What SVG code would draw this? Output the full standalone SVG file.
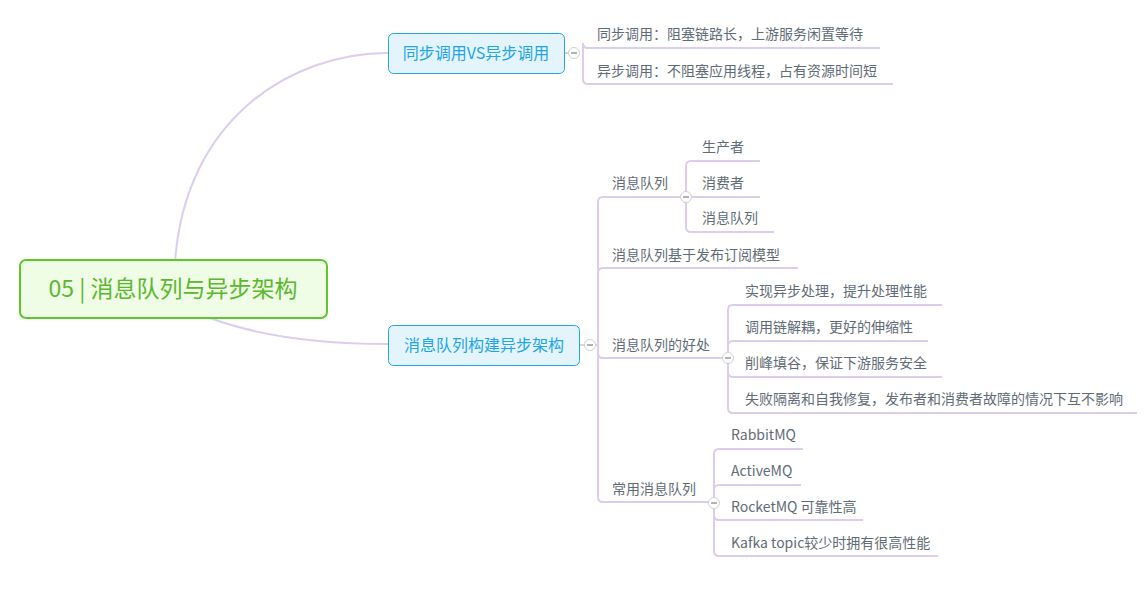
<svg xmlns="http://www.w3.org/2000/svg" width="1147" height="597" viewBox="0 0 1147 597">
<defs>
<style>
.ln{fill:none;stroke:#dccdee;stroke-width:2}
.t{font-family:"Noto Sans CJK SC","Noto Sans",sans-serif;font-size:14px;fill:#5f6b76}
.nt{font-family:"Noto Sans CJK SC","Noto Sans",sans-serif;font-size:16px;fill:#22a5e6;text-anchor:middle}
.nb{fill:#e4f4fc;stroke:#22a5e6;stroke-width:1}
.cc{fill:#fff;stroke:#d0d0d0;stroke-width:1}
.cm{stroke:#999;stroke-width:1.5}
</style>
<g id="collapse"><circle class="cc" r="5.5"/><line class="cm" x1="-3" y1="0" x2="3" y2="0"/></g>
</defs>
<rect width="1147" height="597" fill="#fff"/>
<g id="connectors">
<path class="ln" d="M175,262 C185,120 290,53 388,53"/>
<path class="ln" d="M210,318 Q280,344 388,344"/>
<path class="ln" d="M564,53 L580,53"/>
<path class="ln" d="M583,53 L583,43 Q583,48 588,48 L880,48"/>
<path class="ln" d="M583,53 L583,79 Q583,84 588,84 L893,84"/>
<path class="ln" d="M579,345 L598,345"/>
<path class="ln" d="M598,345 L598,202 Q598,197 603,197 L686,197"/>
<path class="ln" d="M598,345 L598,273 Q598,268 603,268 L798,268"/>
<path class="ln" d="M598,345 L598,353 Q598,358 603,358 L728,358"/>
<path class="ln" d="M598,345 L598,497 Q598,502 603,502 L714,502"/>
<path class="ln" d="M686,197 L686,166 Q686,161 691,161 L760,161"/>
<path class="ln" d="M686,197 L760,197"/>
<path class="ln" d="M686,197 L686,227 Q686,232 691,232 L774,232"/>
<path class="ln" d="M728,358 L728,310 Q728,305 733,305 L942,305"/>
<path class="ln" d="M728,358 L728,346 Q728,341 733,341 L928,341"/>
<path class="ln" d="M728,358 L728,372 Q728,377 733,377 L942,377"/>
<path class="ln" d="M728,358 L728,408 Q728,413 733,413 L1137,413"/>
<path class="ln" d="M714,502 L714,454 Q714,449 719,449 L803,449"/>
<path class="ln" d="M714,502 L714,490 Q714,485 719,485 L801,485"/>
<path class="ln" d="M714,502 L714,515 Q714,520 719,520 L863,520"/>
<path class="ln" d="M714,502 L714,551 Q714,556 719,556 L938,556"/>
<use href="#collapse" x="574" y="53"/>
<use href="#collapse" x="590" y="345"/>
<use href="#collapse" x="686" y="197"/>
<use href="#collapse" x="728" y="358"/>
<use href="#collapse" x="714" y="503"/>
</g>
<g id="root">
<rect x="20" y="260" width="307" height="58" rx="6" fill="#effce6" stroke="#5fc72e" stroke-width="2"/>
<text x="173" y="297" font-family="'Noto Sans CJK SC','Noto Sans',sans-serif" font-size="23" fill="#5ab82c" text-anchor="middle">05 | 消息队列与异步架构</text>
</g>
<g id="n-sync">
<rect class="nb" x="388.5" y="33.5" width="176" height="40" rx="5"/>
<text class="nt" x="476" y="59">同步调用VS异步调用</text>
</g>
<g id="n-sync-1"><text class="t" x="597" y="39">同步调用：阻塞链路长，上游服务闲置等待</text></g>
<g id="n-sync-2"><text class="t" x="597" y="76">异步调用：不阻塞应用线程，占有资源时间短</text></g>
<g id="n-arch">
<rect class="nb" x="388.5" y="325.5" width="191" height="40" rx="5"/>
<text class="nt" x="484" y="351">消息队列构建异步架构</text>
</g>
<g id="n-mq"><text class="t" x="612" y="188">消息队列</text></g>
<g id="n-mq-1"><text class="t" x="702" y="152">生产者</text></g>
<g id="n-mq-2"><text class="t" x="702" y="188">消费者</text></g>
<g id="n-mq-3"><text class="t" x="702" y="223">消息队列</text></g>
<g id="n-pubsub"><text class="t" x="612" y="260">消息队列基于发布订阅模型</text></g>
<g id="n-benefit"><text class="t" x="612" y="350">消息队列的好处</text></g>
<g id="n-benefit-1"><text class="t" x="745" y="296">实现异步处理，提升处理性能</text></g>
<g id="n-benefit-2"><text class="t" x="745" y="332">调用链解耦，更好的伸缩性</text></g>
<g id="n-benefit-3"><text class="t" x="745" y="368">削峰填谷，保证下游服务安全</text></g>
<g id="n-benefit-4"><text class="t" x="745" y="404">失败隔离和自我修复，发布者和消费者故障的情况下互不影响</text></g>
<g id="n-common"><text class="t" x="612" y="494">常用消息队列</text></g>
<g id="n-common-1"><text class="t" x="731" y="440">RabbitMQ</text></g>
<g id="n-common-2"><text class="t" x="731" y="476">ActiveMQ</text></g>
<g id="n-common-3"><text class="t" x="731" y="512">RocketMQ 可靠性高</text></g>
<g id="n-common-4"><text class="t" x="731" y="548">Kafka topic较少时拥有很高性能</text></g>
</svg>
